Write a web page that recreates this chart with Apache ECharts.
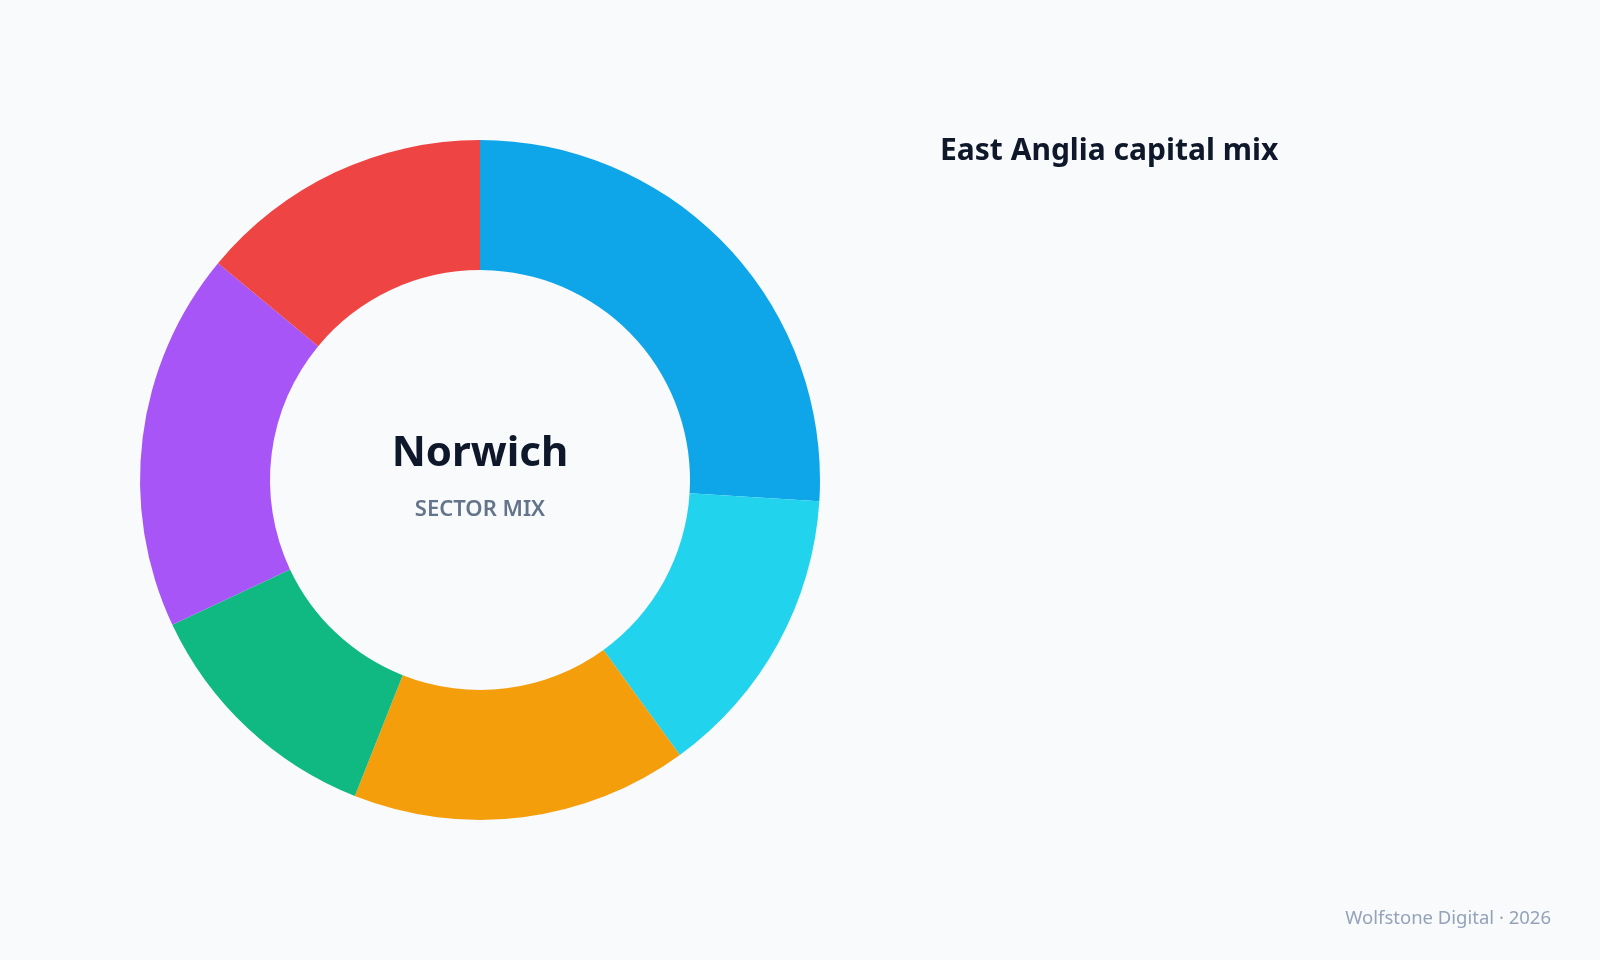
<!DOCTYPE html>
<html>
<head>
<meta charset="utf-8">
<title>East Anglia capital mix</title>
<script src="https://cdn.jsdelivr.net/npm/echarts@6/dist/echarts.min.js"></script>
<style>
    html, body { margin: 0; padding: 0; background: #f8fafc; }
    #main { width: 1600px; height: 960px; }
</style>
</head>
<body>
<div id="main"></div>
<script>
// sector shares, clockwise from 12 o'clock
var sectors = ['Technology', 'Life sciences', 'Agri-food', 'Energy', 'Financial services', 'Creative'];
var shares = [26, 14, 16, 12, 18, 14];
var colors = ['#0ea5e9', '#22d3ee', '#f59e0b', '#10b981', '#a855f7', '#ef4444'];

var FONT = '"Noto Sans", "Open Sans", sans-serif';

function buildData() {
    var list = [];
    for (var i = 0; i < sectors.length; i++) {
        list.push({ name: sectors[i], value: shares[i], itemStyle: { color: colors[i] } });
    }
    return list;
}

var myChart = echarts.init(document.getElementById('main'), null, { renderer: 'canvas' });

var option = {
    backgroundColor: '#f8fafc',
    animation: false,
    title: [
        {
            text: 'East Anglia capital mix',
            left: 940,
            top: 136,
            padding: 0,
            textStyle: { fontFamily: FONT, fontSize: 30, fontWeight: 'bold', color: '#0f172a' }
        },
        {
            text: 'Norwich',
            left: 480,
            top: 433,
            padding: 0,
            textAlign: 'center',
            textStyle: { fontFamily: FONT, fontSize: 42, fontWeight: 'bold', color: '#0f172a' }
        },
        {
            text: 'SECTOR MIX',
            left: 480,
            top: 499,
            padding: 0,
            textAlign: 'center',
            textStyle: { fontFamily: FONT, fontSize: 22, fontWeight: 600, color: '#64748b' }
        },
        {
            text: 'Wolfstone Digital · 2026',
            right: 49,
            top: 909,
            padding: 0,
            textStyle: { fontFamily: FONT, fontSize: 18.5, fontWeight: 'normal', color: '#94a3b8' }
        }
    ],
    tooltip: { trigger: 'item' },
    series: [
        {
            type: 'pie',
            center: [480, 480],
            radius: [210, 340],
            startAngle: 90,
            clockwise: true,
            label: { show: false },
            labelLine: { show: false },
            itemStyle: { borderWidth: 0 },
            data: buildData()
        }
    ]
};

myChart.setOption(option);
window.addEventListener('resize', myChart.resize);
</script>
</body>
</html>
